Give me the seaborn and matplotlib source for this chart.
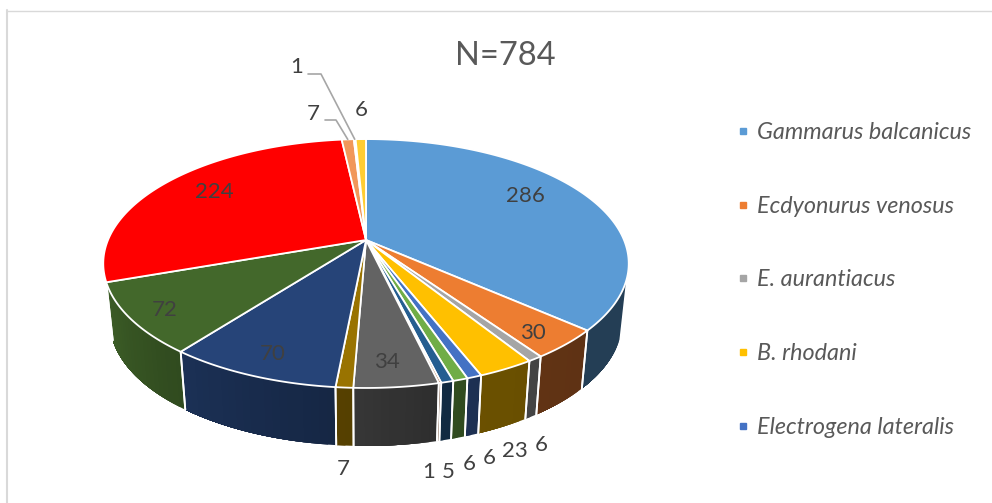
import numpy as np
import matplotlib
matplotlib.use('Agg')
import matplotlib.pyplot as plt
from matplotlib.lines import Line2D
import seaborn as sns

# values clockwise from 12 o'clock
counts = [286, 30, 6, 23, 6, 6, 5, 1, 34, 7, 70, 72, 224, 7, 1, 6]
slice_colors = ['#5B9BD5', '#ED7D31', '#A5A5A5', '#FFC000', '#4472C4', '#70AD47', '#255E91', '#9E480E',
                '#636363', '#997300', '#264478', '#43682B', '#FF0000', '#F1975A', '#B7B7B7', '#FFCD33']
legend_names = ['Gammarus balcanicus', 'Ecdyonurus venosus', 'E. aurantiacus', 'B. rhodani', 'Electrogena lateralis']
title = 'N=784'

# label places in pixels, same order as counts
label_xy = [(525, 196), (533, 333), (541, 445), (515, 451), (489, 458), (469, 464), (448, 472), (429, 472),
            (387, 362), (343, 469), (273, 354), (165, 310), (214, 192), (313, 114), (297, 67), (361, 110)]

sns.set_theme(style='white')
plt.rcParams['font.family'] = ['Lato', 'DejaVu Sans']
palette = sns.color_palette(slice_colors)

# perspective of the disc, fitted on the picture
cx, cy = 366, 240
rx, ry, tilt = 258, 120, 0.189
depth, shrink = 58, 0.975


def top_xy(theta):
    s, c = np.sin(theta), np.cos(theta)
    w = 1 + tilt * c
    return cx + rx * s / w, cy - ry * c / w


def bottom_xy(theta):
    x, y = top_xy(theta)
    return cx + (x - cx) * shrink, y + depth


def wall_poly(t0, t1):
    ts = np.linspace(t0, t1, max(3, int(np.degrees(t1 - t0)) + 3))
    x0, y0 = top_xy(ts)
    x1, y1 = bottom_xy(ts[::-1])
    return np.r_[x0, x1], np.r_[y0, y1]


fig = plt.figure(figsize=(9.92, 5.03), dpi=100)
ax = fig.add_axes([0, 0, 1, 1])
ax.set_xlim(0, 992)
ax.set_ylim(503, 0)
ax.axis('off')

edges = np.radians(np.concatenate([[0], np.cumsum(counts)]) / sum(counts) * 360)
wall_from, wall_to = np.radians(109), np.radians(251)

# side wall, darker to the right
shade_at = np.radians([109, 131, 160, 180, 215, 251])
shade_val = [0.40, 0.40, 0.42, 0.54, 0.70, 0.90]
step = np.radians(1.5)
for i, col in enumerate(palette):
    a0, a1 = max(edges[i], wall_from), min(edges[i + 1], wall_to)
    if a1 <= a0:
        continue
    # each band runs on to the end of the slice, the next one paints over it, so no seams
    t = a0
    while t < a1:
        shade = np.interp(t + step / 2, shade_at, shade_val)
        x, y = wall_poly(t, a1)
        ax.fill(x, y, color=tuple(np.array(col) * shade), lw=0, zorder=2)
        t += step
    for t in [a0, a1]:
        if wall_from < t < wall_to:
            x0, y0 = top_xy(t)
            x1, y1 = bottom_xy(t)
            ax.plot([x0, x1], [y0, y1], color='white', lw=1.3, zorder=3)

# top face
for i, col in enumerate(palette):
    ts = np.linspace(edges[i], edges[i + 1], 120)
    x, y = top_xy(ts)
    ax.fill(np.r_[cx, x], np.r_[cy, y], facecolor=col, edgecolor='white', lw=1.3, joinstyle='round', zorder=4)

# value labels
for n, (x, y) in zip(counts, label_xy):
    ax.text(x, y, str(n), fontsize=16, color='#404040', ha='center', va='center', zorder=6)

# leader lines for the two thin slices on top
for i, elbow in [(13, [(325, 120), (336, 120)]), (14, [(308, 74), (321, 74)])]:
    ex, ey = top_xy((edges[i] + edges[i + 1]) / 2)
    xs = [p[0] for p in elbow] + [ex]
    ys = [p[1] for p in elbow] + [ey]
    ax.plot(xs, ys, color='#A6A6A6', lw=1.2, zorder=5)

ax.text(505, 56, title, fontsize=23.5, color='#595959', ha='center', va='center')

handles = [Line2D([], [], marker='s', ls='', ms=5, color=palette[i]) for i in range(len(legend_names))]
leg = ax.legend(handles, legend_names, loc='upper left', bbox_to_anchor=(735.5 / 992, 1 - 122 / 503),
                frameon=False, fontsize=16.8, labelspacing=2.26, handletextpad=0.32, handlelength=0.6,
                borderpad=0, borderaxespad=0)
for t in leg.get_texts():
    t.set_style('italic')
    t.set_color('#595959')

# chart frame, only top and left survive the crop
ax.plot([7, 992], [10.5, 10.5], color='#D9D9D9', lw=1.0)
ax.plot([7, 7], [10, 503], color='#D9D9D9', lw=1.5)

fig.savefig('out.png', dpi=100)
